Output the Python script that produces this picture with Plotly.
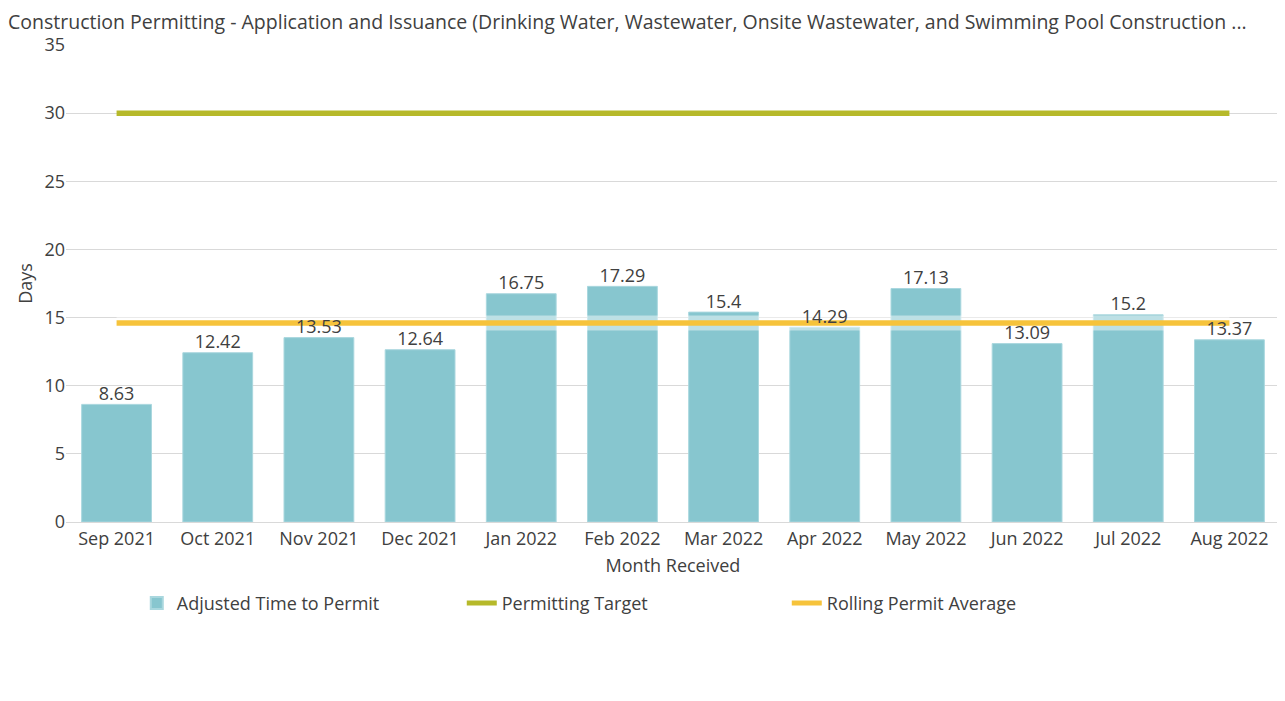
import plotly.graph_objects as go

months = ["Sep 2021", "Oct 2021", "Nov 2021", "Dec 2021", "Jan 2022", "Feb 2022",
          "Mar 2022", "Apr 2022", "May 2022", "Jun 2022", "Jul 2022", "Aug 2022"]
adjusted_time = [8.63, 12.42, 13.53, 12.64, 16.75, 17.29, 15.4, 14.29, 17.13, 13.09, 15.2, 13.37]
permitting_target = [30] * 12
rolling_average = [14.6] * 12

title_text = ("Construction Permitting - Application and Issuance (Drinking Water, Wastewater, "
              "Onsite Wastewater, and Swimming Pool Construction ...")

FONT = "Open Sans"
TXT = "#404040"

fig = go.Figure()
fig.add_trace(go.Bar(
    x=months, y=adjusted_time, name="Adjusted Time to Permit",
    marker=dict(color="#87c6cf", line=dict(color="#a9d7de", width=1)),
    width=0.69,
))
fig.add_trace(go.Scatter(
    x=months, y=permitting_target, name="Permitting Target", mode="lines",
    line=dict(color="#b6b92a", width=5.5), hoverinfo="skip",
))
fig.add_trace(go.Scatter(
    x=months, y=rolling_average, mode="lines", showlegend=False,
    line=dict(color="rgba(255,255,255,0.45)", width=15), hoverinfo="skip",
))
fig.add_trace(go.Scatter(
    x=months, y=rolling_average, name="Rolling Permit Average", mode="lines",
    line=dict(color="#f6c33b", width=5.5), hoverinfo="skip",
))
fig.add_trace(go.Scatter(
    x=months, y=adjusted_time, mode="text", showlegend=False,
    text=[f"{v:g}" for v in adjusted_time], textposition="top center",
    textfont=dict(family=FONT, size=18, color=TXT), hoverinfo="skip",
))

fig.update_layout(
    width=1285, height=701,
    paper_bgcolor="white", plot_bgcolor="white",
    font=dict(family=FONT, size=18, color=TXT),
    margin=dict(l=58, r=13, t=37, b=187, autoexpand=False),
    title=dict(text=title_text, x=0.0, xanchor="left", y=1 - 14 / 701, yanchor="middle",
               font=dict(family=FONT, size=19.5, color=TXT), automargin=False),
    bargap=0.31,
    xaxis=dict(
        title=dict(text="Month Received", font=dict(size=18, color=TXT), standoff=10),
        range=[-0.5, len(months) - 0.5],
        showgrid=False, showline=False, ticks="", tickfont=dict(size=18, color=TXT),
        ticklabelstandoff=4, automargin=False,
    ),
    yaxis=dict(
        title=dict(text="Days", font=dict(size=18, color=TXT), standoff=7),
        range=[0, 35], dtick=5, showgrid=True, gridcolor="#d9d9d9", gridwidth=1,
        zeroline=True, zerolinecolor="#d9d9d9", zerolinewidth=1,
        ticks="", tickfont=dict(size=18, color=TXT), automargin=False,
    ),
    legend=dict(
        orientation="h", x=0.0583, xanchor="left", y=-0.1316, yanchor="top",
        entrywidth=280, entrywidthmode="pixels", font=dict(size=18, color=TXT),
        itemsizing="constant",
    ),
)

fig.write_html("out.html")
